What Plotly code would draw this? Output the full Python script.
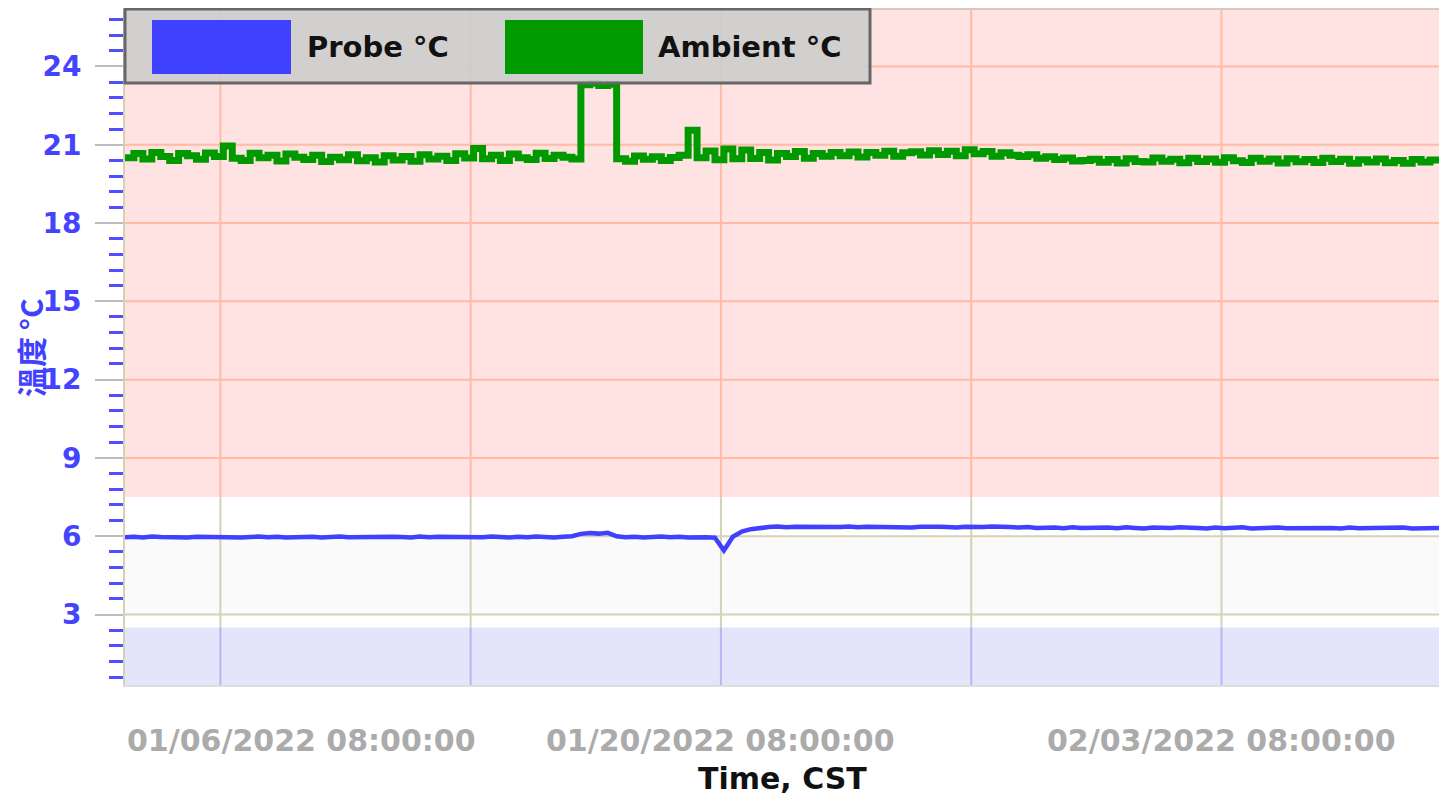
import pandas as pd
import plotly.graph_objects as go

# ---------------- data ----------------
start_time = "2022-01-03 16:00:00"
sample_step = "6h"

ambient_c = [
    20.50, 20.66, 20.45, 20.70, 20.55, 20.40, 20.66, 20.58, 20.44, 20.68,
    20.55, 20.95, 20.48, 20.40, 20.67, 20.50, 20.60, 20.38, 20.64, 20.52,
    20.43, 20.60, 20.36, 20.52, 20.42, 20.62, 20.39, 20.50, 20.34, 20.58,
    20.41, 20.55, 20.37, 20.62, 20.45, 20.56, 20.40, 20.65, 20.49, 20.86,
    20.46, 20.60, 20.40, 20.64, 20.50, 20.43, 20.67, 20.47, 20.60, 20.52,
    20.45,
    23.30, 23.36, 23.27, 23.32,
    20.46, 20.37, 20.57, 20.44, 20.54, 20.40, 20.51, 20.60,
    21.55,
    20.50, 20.76, 20.42, 20.84, 20.46, 20.80,
    20.47, 20.70, 20.41, 20.66, 20.55, 20.74, 20.48, 20.66, 20.56, 20.70,
    20.58, 20.72, 20.53, 20.70, 20.60, 20.75, 20.56, 20.69, 20.73, 20.61,
    20.77, 20.63, 20.75, 20.58, 20.81, 20.65, 20.74, 20.56, 20.69, 20.60,
    20.55, 20.62, 20.48, 20.54, 20.43, 20.49, 20.38, 20.40, 20.44, 20.33,
    20.43, 20.30, 20.46, 20.36, 20.34, 20.49, 20.37, 20.44, 20.31, 20.48,
    20.36, 20.45, 20.33, 20.50, 20.39, 20.32, 20.48, 20.37, 20.45, 20.30,
    20.46, 20.35, 20.43, 20.32, 20.48, 20.36, 20.44, 20.29, 20.42, 20.34,
    20.45, 20.31, 20.40, 20.29, 20.43, 20.34, 20.41, 20.37,
]

probe_c = [
    5.96, 5.98, 5.95, 5.99, 5.97, 5.96, 5.99, 5.95, 5.98, 5.97,
    5.99, 5.96, 5.98, 5.95, 5.97, 5.99, 5.96, 5.98, 5.95, 5.97,
    5.96, 5.98, 5.95, 5.97, 5.99, 5.96, 5.97, 5.95, 5.98, 5.96,
    5.98, 5.97, 5.95, 5.99, 5.96, 5.98, 5.97, 5.95, 5.98, 5.97,
    5.96, 5.99, 5.97, 5.95, 5.98, 5.96, 5.99, 5.97, 5.95, 5.98,
    6.00,
    6.09, 6.12, 6.10, 6.13,
    6.00, 5.96, 5.98, 5.95, 5.97, 5.99, 5.96, 5.98, 5.95, 5.97, 5.96, 5.94,
    5.45,
    5.98, 6.18, 6.27, 6.33,
    6.35, 6.37, 6.34, 6.36, 6.35, 6.38, 6.34, 6.36,
    6.35, 6.37, 6.34, 6.36, 6.35, 6.34, 6.37, 6.35, 6.33, 6.36,
    6.34, 6.36, 6.35, 6.33, 6.36, 6.34, 6.35, 6.37, 6.34, 6.35,
    6.33, 6.35, 6.32, 6.34, 6.33, 6.31, 6.34, 6.32, 6.33, 6.31,
    6.33, 6.31, 6.34, 6.32, 6.30, 6.33, 6.31, 6.32, 6.34, 6.31,
    6.32, 6.30, 6.33, 6.31, 6.32, 6.34, 6.30, 6.32, 6.31, 6.33,
    6.31, 6.32, 6.30, 6.33, 6.31, 6.32, 6.30, 6.33, 6.31, 6.32,
    6.30, 6.32, 6.31, 6.33, 6.30, 6.32, 6.31, 6.32,
]

grid_dates = ["2022-01-06 08:00:00", "2022-01-13 08:00:00", "2022-01-20 08:00:00",
              "2022-01-27 08:00:00", "2022-02-03 08:00:00"]
label_dates = ["2022-01-06 08:00:00", "2022-01-20 08:00:00", "2022-02-03 08:00:00"]
label_texts = ["01/06/2022 08:00:00", "01/20/2022 08:00:00", "02/03/2022 08:00:00"]

y_ticks = [3, 6, 9, 12, 15, 18, 21, 24]
y_range = [0.3, 26.2]
high_limit = 7.5
low_limit = 2.5
normal_band = [3, 6]

series_names = ["Probe °C", "Ambient °C"]
y_title = "溫度 °C"
x_title = "Time, CST"

# ---------------- styling ----------------
BLUE = "#4040ff"
GREEN = "#009900"
RED_BAND = "#ffe2e2"
BLUE_BAND = "#e4e4fb"
GRAY_BAND = "#fafafa"
GRID_RED = "#ffbba3"
GRID_KHAKI = "#d2d2b6"
GRID_BLUE = "#b6b6f4"
FONT = "DejaVu Sans"

OFF = 8  # page body margin
W, H = 1431, 791
ML, MR, MT, MB = 117, 0, 1, 114
PW, PH = W - ML - MR, H - MT - MB


def px_x(p):
    return (p - OFF - ML) / PW


def px_y(p):
    return (MT + PH - (p - OFF)) / PH


times = pd.date_range(start_time, periods=len(ambient_c), freq=sample_step)

fig = go.Figure()
fig.add_trace(go.Scatter(x=times, y=ambient_c, mode="lines", name=series_names[1],
                         line=dict(color=GREEN, width=7, shape="hv"), showlegend=False))
fig.add_trace(go.Scatter(x=times, y=probe_c, mode="lines", name=series_names[0],
                         line=dict(color=BLUE, width=4.5), showlegend=False))

shapes = []
# bands
shapes.append(dict(type="rect", xref="paper", yref="y", x0=0, x1=1, y0=high_limit, y1=y_range[1],
                   fillcolor=RED_BAND, line=dict(width=0), layer="below"))
shapes.append(dict(type="rect", xref="paper", yref="y", x0=0, x1=1, y0=normal_band[0], y1=normal_band[1],
                   fillcolor=GRAY_BAND, line=dict(width=0), layer="below"))
shapes.append(dict(type="rect", xref="paper", yref="y", x0=0, x1=1, y0=y_range[0], y1=low_limit,
                   fillcolor=BLUE_BAND, line=dict(width=0), layer="below"))
# horizontal grid
for v in y_ticks:
    shapes.append(dict(type="line", xref="paper", yref="y", x0=0, x1=1, y0=v, y1=v,
                       line=dict(color=GRID_RED if v > high_limit else GRID_KHAKI, width=2), layer="below"))
# vertical grid, coloured per band
for d in grid_dates:
    for (a, b, c) in [(y_range[0], low_limit, GRID_BLUE), (low_limit, high_limit, GRID_KHAKI),
                      (high_limit, y_range[1], GRID_RED)]:
        shapes.append(dict(type="line", xref="x", yref="y", x0=d, x1=d, y0=a, y1=b,
                           line=dict(color=c, width=2), layer="below"))
# top border
shapes.append(dict(type="line", xref="paper", yref="paper", x0=0, x1=1, y0=1, y1=1,
                   line=dict(color="#d9c9bb", width=2), layer="below"))

# custom legend
shapes.append(dict(type="rect", xref="paper", yref="paper", x0=px_x(125), x1=px_x(870),
                   y0=px_y(83), y1=px_y(9), fillcolor="rgba(205,205,205,0.9)",
                   line=dict(color="#666666", width=3), layer="above"))
shapes.append(dict(type="rect", xref="paper", yref="paper", x0=px_x(152), x1=px_x(291),
                   y0=px_y(74), y1=px_y(20), fillcolor=BLUE, line=dict(width=0), layer="above"))
shapes.append(dict(type="rect", xref="paper", yref="paper", x0=px_x(505), x1=px_x(643),
                   y0=px_y(74), y1=px_y(20), fillcolor=GREEN, line=dict(width=0), layer="above"))

annotations = []
annotations.append(dict(text=series_names[0], xref="paper", yref="paper", x=px_x(305), y=px_y(47),
                        xanchor="left", yanchor="middle", showarrow=False,
                        font=dict(family=FONT, size=29, color="#111111", weight="bold")))
annotations.append(dict(text=series_names[1], xref="paper", yref="paper", x=px_x(656), y=px_y(47),
                        xanchor="left", yanchor="middle", showarrow=False,
                        font=dict(family=FONT, size=29, color="#111111", weight="bold")))
# x tick labels
for i, (d, t) in enumerate(zip(label_dates, label_texts)):
    annotations.append(dict(text=t, xref="x", yref="paper",
                            x=times[0] if i == 0 else d, y=px_y(740),
                            xanchor="left" if i == 0 else "center", yanchor="middle", showarrow=False,
                            font=dict(family=FONT, size=30, color="#ababab", weight="bold")))
annotations.append(dict(text=x_title, xref="paper", yref="paper", x=0.5, y=px_y(798),
                        xanchor="center", yanchor="bottom", showarrow=False,
                        font=dict(family=FONT, size=30, color="#111111", weight="bold")))
annotations.append(dict(text=y_title, xref="paper", yref="paper", x=px_x(30), y=px_y(348),
                        xanchor="center", yanchor="middle", showarrow=False, textangle=-90,
                        font=dict(family="Noto Sans CJK TC", size=30, color=BLUE, weight="bold")))

fig.update_layout(
    width=W, height=H,
    margin=dict(l=ML, r=MR, t=MT, b=MB),
    paper_bgcolor="white", plot_bgcolor="white",
    showlegend=False,
    shapes=shapes, annotations=annotations,
    xaxis=dict(type="date", range=[times[0], times[-1]], showgrid=False, zeroline=False,
               showticklabels=False, ticks="", showline=True, linecolor="#dddddd", linewidth=2),
    yaxis=dict(range=y_range, tickmode="array", tickvals=y_ticks, showgrid=False, zeroline=False,
               ticks="outside", ticklen=28, tickwidth=2, tickcolor="#bbbbbb",
               tickfont=dict(family=FONT, size=28, color="#4444ff", weight="bold"),
               ticklabelstandoff=8,
               showline=True, linecolor=GRID_KHAKI, linewidth=2,
               minor=dict(tickmode="array", tickvals=[v / 10 for v in range(6, 262, 6) if v % 30 != 0],
                          ticks="outside", ticklen=14, tickwidth=2.5, tickcolor="#5050ff",
                          showgrid=False)),
)

fig.write_html("out.html")
